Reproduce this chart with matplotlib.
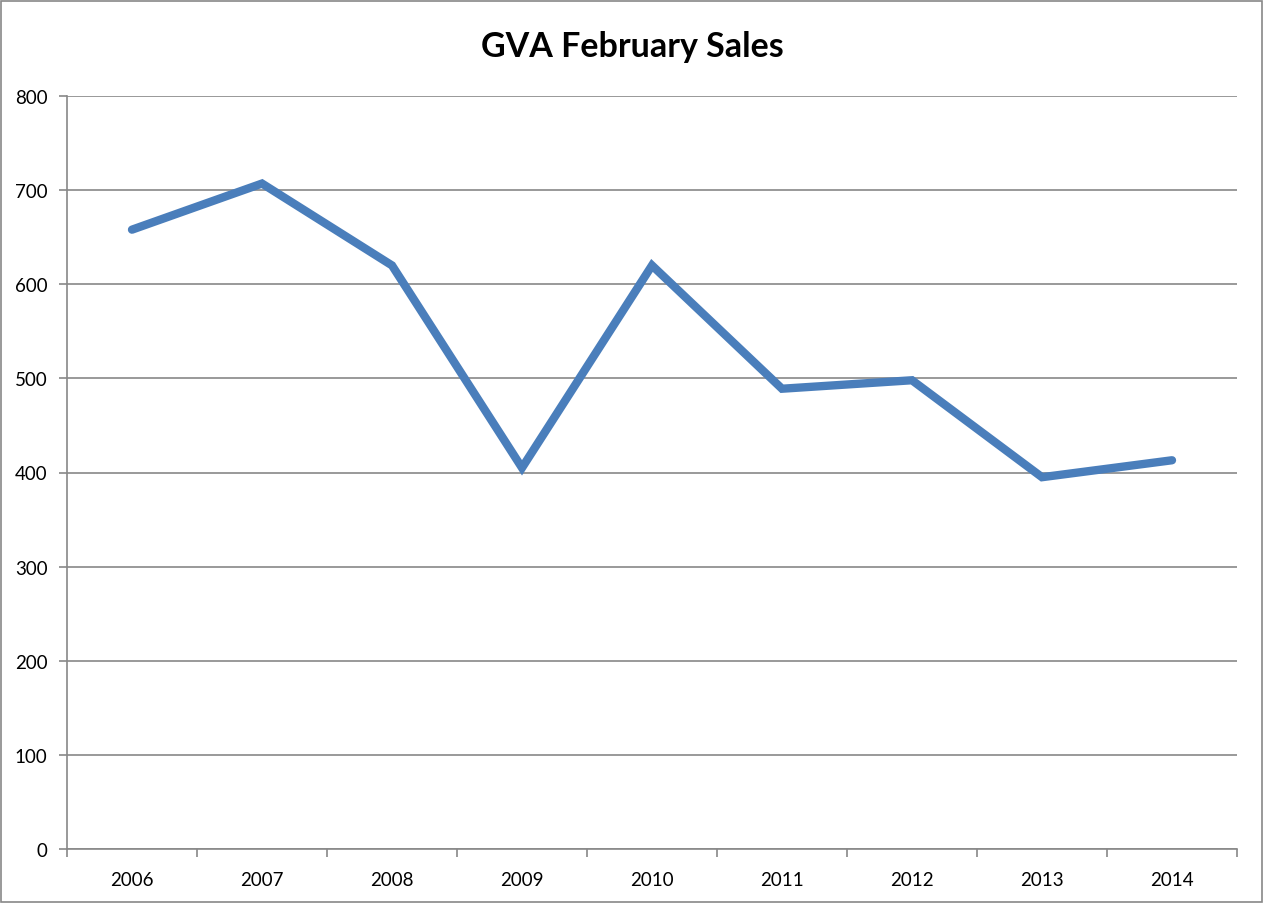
import matplotlib
matplotlib.use('Agg')
import matplotlib.pyplot as plt
from matplotlib.patches import Rectangle

years = ['2006', '2007', '2008', '2009', '2010', '2011', '2012', '2013', '2014']
sales = [658, 707, 620, 405, 620, 489, 498, 395, 413]
y_ticks = [0, 100, 200, 300, 400, 500, 600, 700, 800]

plt.rcParams['font.family'] = ['Lato', 'DejaVu Sans']

fig = plt.figure(figsize=(12.65, 9.04), dpi=100)
ax = fig.add_axes([67 / 1265, 54 / 904, 1170 / 1265, 753 / 904])

x = list(range(len(years)))
ax.plot(x, sales, color='#4a7ebb', linewidth=6, solid_capstyle='round',
        solid_joinstyle='miter', zorder=3)

ax.set_xlim(-0.5, len(years) - 0.5)
ax.set_ylim(0, 800)
ax.set_yticks(y_ticks)
ax.set_yticklabels([str(v) for v in y_ticks], fontsize=13.5)
ax.set_xticks(x)
ax.set_xticklabels(years, fontsize=13.5)
ax.tick_params(axis='x', length=0, pad=16)
# category boundary ticks
ax.set_xticks([i - 0.5 for i in range(len(years) + 1)], minor=True)
ax.tick_params(axis='x', which='minor', length=6, color='#888888', width=1.2)
ax.tick_params(axis='y', length=6, color='#888888', width=1.2, pad=8)

ax.grid(axis='y', color='#888888', linewidth=1.2)
ax.set_axisbelow(True)
for s in ['top', 'right']:
    ax.spines[s].set_visible(False)
for s in ['left', 'bottom']:
    ax.spines[s].set_color('#888888')
    ax.spines[s].set_linewidth(1.2)

fig.text(0.5, 1 - 47 / 904, 'GVA February Sales', ha='center', va='center',
         fontsize=24.5, fontweight='bold')

fig.patches.append(Rectangle((1 / 1265, 1 / 904), 1261 / 1265, 901 / 904,
                             transform=fig.transFigure, fill=False,
                             edgecolor='#888888', linewidth=1.2))

fig.savefig('out.png', dpi=100)
